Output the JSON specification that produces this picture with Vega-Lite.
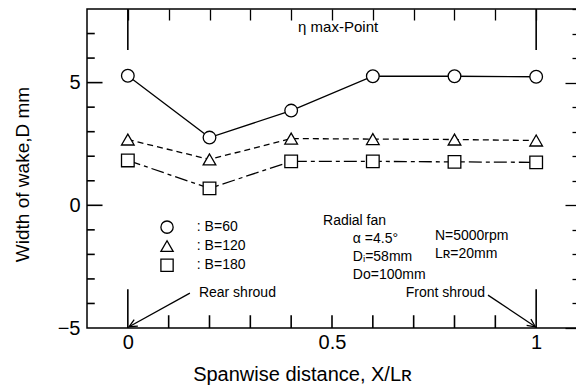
{
  "$schema": "https://vega.github.io/schema/vega-lite/v6.json",
  "width": 490,
  "height": 319,
  "autosize": {"type": "none"},
  "padding": {"left": 87, "top": 9, "right": 0, "bottom": 62},
  "background": "white",
  "config": {
    "view": {"stroke": "black", "strokeWidth": 1.5},
    "font": "Liberation Sans",
    "axis": {"labelColor": "black", "titleColor": "black", "tickColor": "black", "titleFontWeight": "normal", "labelFont": "Liberation Sans", "titleFont": "Liberation Sans"}
  },
  "datasets": {
    "wake": [
      {"x": 0.0, "y": 5.28, "series": "B=60"},
      {"x": 0.2, "y": 2.76, "series": "B=60"},
      {"x": 0.4, "y": 3.86, "series": "B=60"},
      {"x": 0.6, "y": 5.26, "series": "B=60"},
      {"x": 0.8, "y": 5.26, "series": "B=60"},
      {"x": 1.0, "y": 5.24, "series": "B=60"},
      {"x": 0.0, "y": 2.68, "series": "B=120"},
      {"x": 0.2, "y": 1.87, "series": "B=120"},
      {"x": 0.4, "y": 2.72, "series": "B=120"},
      {"x": 0.6, "y": 2.7, "series": "B=120"},
      {"x": 0.8, "y": 2.68, "series": "B=120"},
      {"x": 1.0, "y": 2.64, "series": "B=120"},
      {"x": 0.0, "y": 1.83, "series": "B=180"},
      {"x": 0.2, "y": 0.69, "series": "B=180"},
      {"x": 0.4, "y": 1.79, "series": "B=180"},
      {"x": 0.6, "y": 1.79, "series": "B=180"},
      {"x": 0.8, "y": 1.77, "series": "B=180"},
      {"x": 1.0, "y": 1.75, "series": "B=180"}
    ],
    "legend": [
      {"series": "B=60", "y": -0.89, "t": ": B=60"},
      {"series": "B=120", "y": -1.66, "t": ": B=120"},
      {"series": "B=180", "y": -2.44, "t": ": B=180"}
    ],
    "vticks": [
      {"x": 0, "y": 8, "y2": 6.33},
      {"x": 1, "y": 8, "y2": 6.33},
      {"x": 0, "y": -5, "y2": -3.42},
      {"x": 1, "y": -5, "y2": -3.42},
      {"x": 0.1, "y": -5, "y2": -4.48},
      {"x": 0.2, "y": -5, "y2": -4.48},
      {"x": 0.3, "y": -5, "y2": -4.48},
      {"x": 0.4, "y": -5, "y2": -4.48},
      {"x": 0.5, "y": -5, "y2": -4.48},
      {"x": 0.6, "y": -5, "y2": -4.48},
      {"x": 0.7, "y": -5, "y2": -4.48},
      {"x": 0.8, "y": -5, "y2": -4.48},
      {"x": 0.9, "y": -5, "y2": -4.48}
    ],
    "hticks": [
      {"y": -4, "x": -0.1, "x2": -0.081},
      {"y": -3, "x": -0.1, "x2": -0.081},
      {"y": -2, "x": -0.1, "x2": -0.081},
      {"y": -1, "x": -0.1, "x2": -0.081},
      {"y": 0, "x": -0.1, "x2": -0.062},
      {"y": 1, "x": -0.1, "x2": -0.081},
      {"y": 2, "x": -0.1, "x2": -0.081},
      {"y": 3, "x": -0.1, "x2": -0.081},
      {"y": 4, "x": -0.1, "x2": -0.081},
      {"y": 5, "x": -0.1, "x2": -0.062},
      {"y": 6, "x": -0.1, "x2": -0.081},
      {"y": 7, "x": -0.1, "x2": -0.081}
    ],
    "arrows": [
      {"name": "rear", "x": 0.152, "y": -3.58, "x2": 0.003, "y2": -4.95},
      {"name": "front", "x": 0.882, "y": -3.66, "x2": 0.998, "y2": -4.95}
    ],
    "notesLeft": [
      {"x": 0.478, "y": -0.65, "t": "Radial fan"},
      {"x": 0.551, "y": -1.38, "t": "α =4.5°"},
      {"x": 0.551, "y": -2.11, "t": "Dᵢ=58mm"},
      {"x": 0.551, "y": -2.85, "t": "Do=100mm"},
      {"x": 0.752, "y": -1.26, "t": "N=5000rpm"},
      {"x": 0.752, "y": -1.99, "t": "Lʀ=20mm"},
      {"x": 0.174, "y": -3.58, "t": "Rear shroud"}
    ],
    "notesRight": [
      {"x": 0.875, "y": -3.58, "t": "Front shroud"}
    ],
    "notesCenter": [
      {"x": 0.515, "y": 7.25, "t": "η max-Point"}
    ]
  },
  "resolve": {"axis": {"x": "independent", "y": "independent"}},
  "layer": [
    {
      "data": {"name": "wake"},
      "transform": [{"filter": "datum.series === 'B=60'"}],
      "mark": {"type": "line", "color": "black", "strokeWidth": 1.3},
      "encoding": {
        "x": {
          "field": "x", "type": "quantitative",
          "scale": {"domain": [-0.1, 1.1], "nice": false, "zero": false},
          "axis": {
            "orient": "top",
            "values": [0, 0.1, 0.2, 0.3, 0.4, 0.5, 0.6, 0.7, 0.8, 0.9, 1.0],
            "domain": false, "grid": false, "labels": false, "title": null,
            "tickSize": -11, "tickWidth": 1.3
          }
        },
        "y": {
          "field": "y", "type": "quantitative",
          "scale": {"domain": [-5, 8], "nice": false, "zero": false},
          "axis": {
            "orient": "right",
            "values": [-5, -4, -3, -2, -1, 0, 1, 2, 3, 4, 5, 6, 7, 8],
            "domain": false, "grid": false, "labels": false, "title": null,
            "tickSize": {"condition": {"test": "datum.value % 5 === 0", "value": -12}, "value": -5},
            "tickWidth": 1.3
          }
        }
      }
    },
    {
      "data": {"name": "wake"},
      "transform": [{"filter": "datum.series === 'B=120'"}],
      "mark": {"type": "line", "color": "black", "strokeWidth": 1.3, "strokeDash": [6, 4]},
      "encoding": {
        "x": {
          "field": "x", "type": "quantitative",
          "axis": {
            "orient": "bottom",
            "values": [0, 0.5, 1.0],
            "domain": false, "grid": false, "ticks": false, "tickSize": 0,
            "labelExpr": "datum.value === 0 ? '0' : (datum.value === 0.5 ? '0.5' : '1')",
            "labelFontSize": 20, "labelPadding": 4, "labelFlush": false, "labelOverlap": false,
            "title": "Spanwise distance, X/Lʀ", "titleFontSize": 20,
            "titleX": 215, "titleY": 52, "titleBaseline": "alphabetic"
          }
        },
        "y": {
          "field": "y", "type": "quantitative",
          "axis": {
            "orient": "left",
            "values": [-5, 0, 5],
            "domain": false, "grid": false, "ticks": false, "tickSize": 0,
            "labelExpr": "datum.value === -5 ? '−5' : (datum.value === 0 ? '0' : '5')",
            "labelFontSize": 20, "labelPadding": 7, "labelFlush": false, "labelOverlap": false,
            "title": "Width of wake,D  mm", "titleFontSize": 19,
            "titleX": -65, "titleY": 165, "titleBaseline": "middle"
          }
        }
      }
    },
    {
      "data": {"name": "wake"},
      "transform": [{"filter": "datum.series === 'B=180'"}],
      "mark": {"type": "line", "color": "black", "strokeWidth": 1.3, "strokeDash": [13, 4, 4, 4]},
      "encoding": {
        "x": {"field": "x", "type": "quantitative", "axis": null},
        "y": {"field": "y", "type": "quantitative", "axis": null}
      }
    },
    {
      "data": {"name": "vticks"},
      "mark": {"type": "rule", "color": "black", "strokeWidth": 1.6},
      "encoding": {
        "x": {"field": "x", "type": "quantitative", "axis": null},
        "y": {"field": "y", "type": "quantitative", "axis": null},
        "y2": {"field": "y2"}
      }
    },
    {
      "data": {"name": "hticks"},
      "mark": {"type": "rule", "color": "black", "strokeWidth": 1.6},
      "encoding": {
        "x": {"field": "x", "type": "quantitative", "axis": null},
        "x2": {"field": "x2"},
        "y": {"field": "y", "type": "quantitative", "axis": null}
      }
    },
    {
      "data": {"name": "wake"},
      "mark": {"type": "point", "filled": false, "fill": "white", "fillOpacity": 1, "stroke": "black", "strokeWidth": 1.3, "size": 160, "opacity": 1},
      "encoding": {
        "x": {"field": "x", "type": "quantitative", "axis": null},
        "y": {"field": "y", "type": "quantitative", "axis": null},
        "shape": {
          "field": "series", "type": "nominal",
          "scale": {"domain": ["B=60", "B=120", "B=180"], "range": ["circle", "triangle-up", "square"]},
          "legend": null
        }
      }
    },
    {
      "data": {"name": "legend"},
      "mark": {"type": "point", "filled": false, "fill": "white", "fillOpacity": 1, "stroke": "black", "strokeWidth": 1.3, "size": 150, "opacity": 1},
      "encoding": {
        "x": {"datum": 0.096, "type": "quantitative", "axis": null},
        "y": {"field": "y", "type": "quantitative", "axis": null},
        "shape": {"field": "series", "type": "nominal", "legend": null}
      }
    },
    {
      "data": {"name": "legend"},
      "mark": {"type": "text", "align": "left", "baseline": "middle", "fontSize": 14, "font": "Liberation Sans", "color": "black"},
      "encoding": {
        "x": {"datum": 0.169, "type": "quantitative", "axis": null},
        "y": {"field": "y", "type": "quantitative", "axis": null},
        "text": {"field": "t"}
      }
    },
    {
      "data": {"name": "arrows"},
      "mark": {"type": "rule", "color": "black", "strokeWidth": 1.3},
      "encoding": {
        "x": {"field": "x", "type": "quantitative", "axis": null},
        "y": {"field": "y", "type": "quantitative", "axis": null},
        "x2": {"field": "x2"},
        "y2": {"field": "y2"}
      }
    },
    {
      "data": {"name": "arrows"},
      "transform": [{"filter": "datum.name === 'rear'"}],
      "mark": {"type": "point", "shape": "M -1.6 -0.75 L 0 0 L -1.6 0.75", "filled": false, "stroke": "black", "strokeWidth": 1.3, "size": 100, "angle": 150.6, "opacity": 1},
      "encoding": {
        "x": {"field": "x2", "type": "quantitative", "axis": null},
        "y": {"field": "y2", "type": "quantitative", "axis": null}
      }
    },
    {
      "data": {"name": "arrows"},
      "transform": [{"filter": "datum.name === 'front'"}],
      "mark": {"type": "point", "shape": "M -1.6 -0.75 L 0 0 L -1.6 0.75", "filled": false, "stroke": "black", "strokeWidth": 1.3, "size": 100, "angle": 34.5, "opacity": 1},
      "encoding": {
        "x": {"field": "x2", "type": "quantitative", "axis": null},
        "y": {"field": "y2", "type": "quantitative", "axis": null}
      }
    },
    {
      "data": {"name": "notesLeft"},
      "mark": {"type": "text", "align": "left", "baseline": "middle", "fontSize": 14, "font": "Liberation Sans", "color": "black"},
      "encoding": {
        "x": {"field": "x", "type": "quantitative", "axis": null},
        "y": {"field": "y", "type": "quantitative", "axis": null},
        "text": {"field": "t"}
      }
    },
    {
      "data": {"name": "notesRight"},
      "mark": {"type": "text", "align": "right", "baseline": "middle", "fontSize": 14, "font": "Liberation Sans", "color": "black"},
      "encoding": {
        "x": {"field": "x", "type": "quantitative", "axis": null},
        "y": {"field": "y", "type": "quantitative", "axis": null},
        "text": {"field": "t"}
      }
    },
    {
      "data": {"name": "notesCenter"},
      "mark": {"type": "text", "align": "center", "baseline": "middle", "fontSize": 15, "font": "Liberation Sans", "color": "black"},
      "encoding": {
        "x": {"field": "x", "type": "quantitative", "axis": null},
        "y": {"field": "y", "type": "quantitative", "axis": null},
        "text": {"field": "t"}
      }
    }
  ]
}
